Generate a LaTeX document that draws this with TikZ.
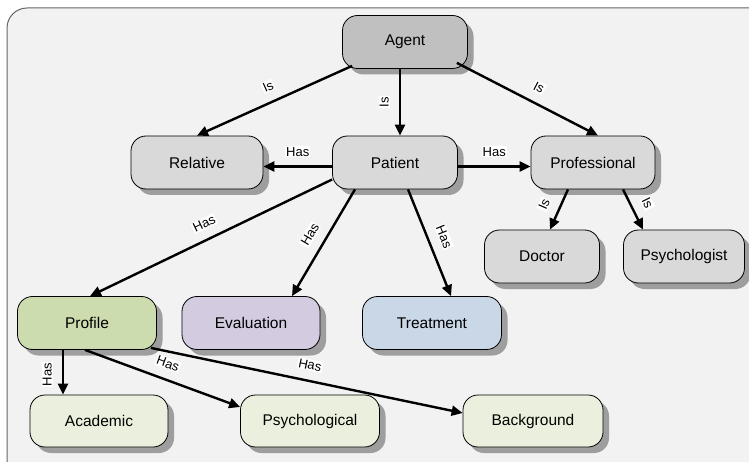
\documentclass[tikz,border=0pt]{standalone}
\usepackage{fontspec}
\setmainfont{Liberation Sans}
\usetikzlibrary{arrows.meta,shadows}

\definecolor{panelfill}{HTML}{F2F2F2}
\definecolor{agentfill}{HTML}{C0C0C0}
\definecolor{greyfill}{HTML}{D9D9D9}
\definecolor{profilefill}{HTML}{CDDCAF}
\definecolor{evalfill}{HTML}{D3CBE0}
\definecolor{treatfill}{HTML}{C9D7E7}
\definecolor{leaffill}{HTML}{EBF0DE}

\tikzset{
  box/.style={draw=black, line width=0.8pt, rounded corners=15pt,
    minimum height=53pt, inner sep=0pt, align=center,
    font=\fontsize{15.5}{18}\selectfont,
    drop shadow={shadow xshift=6pt, shadow yshift=-6pt, fill=black!38, opacity=1}},
  conn/.style={draw=black, line width=2.4pt,
    -{Triangle[length=11pt,width=10pt]}},
  lbl/.style={fill=white, inner sep=1pt, font=\fontsize{13}{15}\selectfont},
}

\begin{document}
\begin{tikzpicture}[x=1pt,y=-1pt]
\useasboundingbox (0,0) rectangle (749,462);
\clip (0,0) rectangle (749,462);
\fill[white] (0,0) rectangle (749,462);
% background panel
\draw[fill=panelfill, draw=black!60, line width=1pt, rounded corners=20pt]
  (7,8) rectangle (800,520);

% nodes
\node[box, fill=agentfill, minimum width=125pt] (agent) at (405,42) {Agent};
\node[box, fill=greyfill, minimum width=132pt] (relative) at (197,162.5) {Relative};
\node[box, fill=greyfill, minimum width=125pt] (patient) at (395,162.5) {Patient};
\node[box, fill=greyfill, minimum width=124pt] (professional) at (593,162.5) {Professional};
\node[box, fill=greyfill, minimum width=115pt] (doctor) at (542,256.5) {Doctor};
\node[box, fill=greyfill, minimum width=121pt] (psychologist) at (684,256.5) {Psychologist};
\node[box, fill=profilefill, minimum width=139pt] (profile) at (87,323) {Profile};
\node[box, fill=evalfill, minimum width=138pt] (evaluation) at (251,323) {Evaluation};
\node[box, fill=treatfill, minimum width=139pt] (treatment) at (432,323) {Treatment};
\node[box, fill=leaffill, minimum width=138pt, minimum height=52pt] (academic) at (99,421) {Academic};
\node[box, fill=leaffill, minimum width=139pt, minimum height=52pt] (psychological) at (310,421) {Psychological};
\node[box, fill=leaffill, minimum width=140pt, minimum height=52pt] (background) at (533,421) {Background};

% connectors
\draw[conn] ([xshift=10pt,yshift=3pt]agent.south west) --
  node[lbl, sloped, above=9pt, pos=0.5] {Is} (relative.north);
\draw[conn] ([xshift=-5pt]agent.south) --
  node[lbl, rotate=90, above=9pt, pos=0.5] {Is} ([xshift=5pt]patient.north);
\draw[conn] ([xshift=-11pt,yshift=6pt]agent.south east) --
  node[lbl, sloped, above=9pt, pos=0.53] {Is} ([xshift=5pt]professional.north);

\draw[conn] ([yshift=-4pt]patient.west) --
  node[lbl, above=8pt] {Has} ([yshift=-4pt]relative.east);
\draw[conn] ([yshift=-4pt]patient.east) --
  node[lbl, above=8pt] {Has} ([yshift=-4pt]professional.west);
\draw[conn] ([yshift=-17pt]patient.west) --
  node[lbl, sloped, above=9pt] {Has} ([xshift=3pt]profile.north);
\draw[conn] ([xshift=-40pt]patient.south) --
  node[lbl, sloped, above=9pt] {Has} ([xshift=41pt]evaluation.north);
\draw[conn] ([xshift=13pt]patient.south) --
  node[lbl, sloped, above=9pt] {Has} ([xshift=19pt]treatment.north);

\draw[conn] ([xshift=-25pt]professional.south) --
  node[lbl, sloped, above=9pt, pos=0.53] {Is} ([xshift=8pt]doctor.north);
\draw[conn] ([xshift=30pt]professional.south) --
  node[lbl, sloped, above=9pt, pos=0.52] {Is} ([xshift=-41pt]psychologist.north);

\draw[conn] ([xshift=-24pt]profile.south) --
  node[lbl, rotate=90, above=9pt, pos=0.55] {Has} ([xshift=-36pt]academic.north);
\draw[conn] ([xshift=-2pt]profile.south) --
  node[lbl, sloped, above=9pt] {Has} ([yshift=14pt]psychological.west);
\draw[conn] ([xshift=-6pt,yshift=2pt]profile.south east) --
  node[lbl, sloped, above=9pt] {Has} ([yshift=8pt]background.west);
\end{tikzpicture}
\end{document}
